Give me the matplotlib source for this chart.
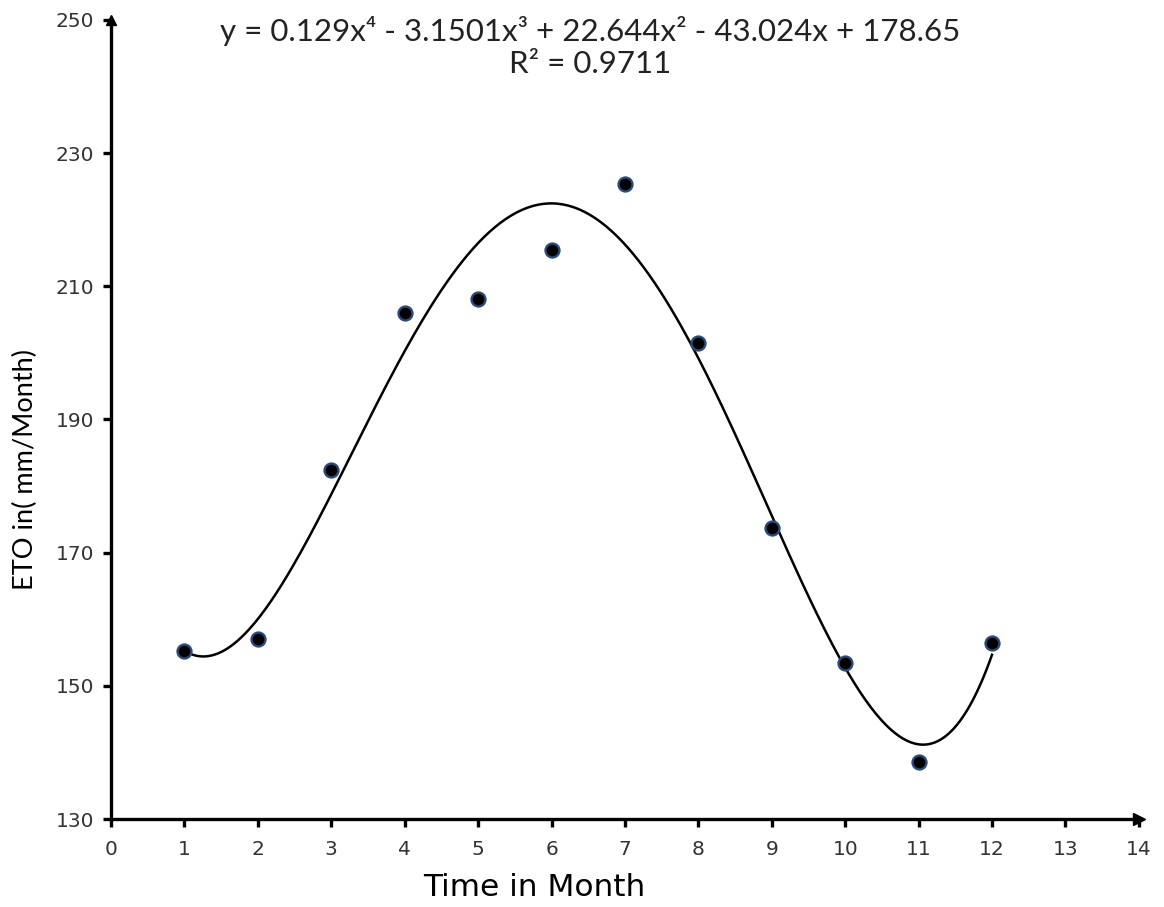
import numpy as np
import matplotlib
matplotlib.use('Agg')
import matplotlib.pyplot as plt

# Данные
months = [1, 2, 3, 4, 5, 6, 7, 8, 9, 10, 11, 12]
eto = [155.3, 157.1, 182.4, 206.0, 208.1, 215.5, 225.3, 201.5, 173.7, 153.4, 138.6, 156.5]
coefs = [0.129, -3.1501, 22.644, -43.024, 178.65]
xticks = list(range(0, 15))
yticks = [130, 150, 170, 190, 210, 230, 250]

fig = plt.figure(figsize=(11.64, 9.07), dpi=100)
ax = fig.add_axes([0.0954, 0.097, 0.883, 0.881])

# линия тренда
xs = np.linspace(1, 12, 300)
ax.plot(xs, np.polyval(coefs, xs), color='black', lw=1.8, zorder=2)

# точки
ax.plot(months, eto, 'o', color='black', ms=10, mec='#2b4a78', mew=1.7, zorder=3)

ax.set_xlim(0, 14)
ax.set_ylim(130, 250)
ax.set_xticks(xticks)
ax.set_yticks(yticks)

for s in ['top', 'right']:
    ax.spines[s].set_visible(False)
for s in ['left', 'bottom']:
    ax.spines[s].set_linewidth(2.4)

ax.tick_params(axis='both', direction='out', length=6, width=2.4, labelsize=14.5, colors='black')
ax.tick_params(axis='x', pad=9)
ax.tick_params(axis='y', pad=6)
for lbl in ax.get_xticklabels() + ax.get_yticklabels():
    lbl.set_color('#333333')

# стрелки на концах осей
ax.plot(1, 0, '>k', ms=9, transform=ax.transAxes, clip_on=False)
ax.plot(0, 1, '^k', ms=7, transform=ax.transAxes, clip_on=False)

ax.set_xlabel('Time in Month', fontsize=22.5, va='center')
ax.set_ylabel('ETO in( mm/Month)', fontsize=19.5, va='center', family=['Lato', 'DejaVu Sans'])
ax.xaxis.set_label_coords(0.412, -0.086)
ax.yaxis.set_label_coords(-0.083, 0.437)

fig.text(0.507, 0.966, 'y = 0.129x⁴ - 3.1501x³ + 22.644x² - 43.024x + 178.65',
         ha='center', va='center', fontsize=22.5, family=['Lato', 'DejaVu Sans'], color='#222222')
fig.text(0.507, 0.929, 'R² = 0.9711', ha='center', va='center', fontsize=22.5,
         family=['Lato', 'DejaVu Sans'], color='#222222')

fig.savefig('out.png', dpi=100)
